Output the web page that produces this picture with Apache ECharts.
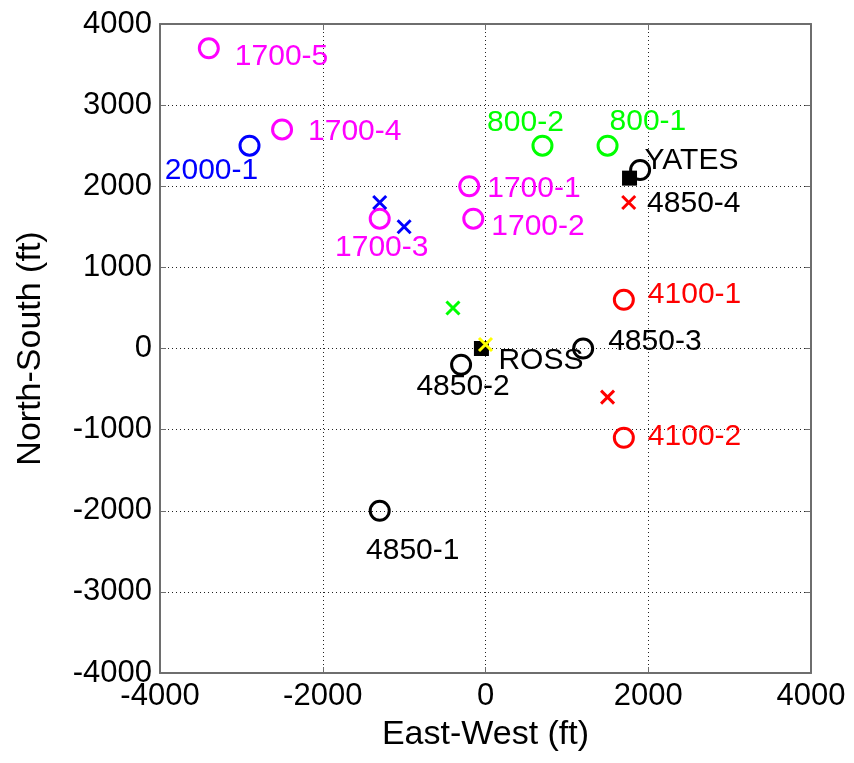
<!DOCTYPE html>
<html>
<head>
<meta charset="utf-8">
<script src="https://cdn.jsdelivr.net/npm/echarts@6/dist/echarts.min.js"></script>
<style>
  html, body { margin: 0; padding: 0; background: #fff; }
  #chart { width: 854px; height: 763px; }
</style>
</head>
<body>
<div id="chart"></div>
<script>
// Axis ranges and ticks (ft)
const xTicks = [-4000, -2000, 0, 2000, 4000];
const yTicks = [-4000, -3000, -2000, -1000, 0, 1000, 2000, 3000, 4000];

// 1700 level stations
const l1700Names = ['1700-5', '1700-4', '1700-1', '1700-2', '1700-3'];
const l1700X = [-3400, -2500, -200, -150, -1300];
const l1700Y = [3700, 2700, 2000, 1600, 1600];

// 2000 level station
const l2000Names = ['2000-1'];
const l2000X = [-2900];
const l2000Y = [2500];

// 800 level stations
const l800Names = ['800-2', '800-1'];
const l800X = [700, 1500];
const l800Y = [2500, 2500];

// 4100 level stations
const l4100Names = ['4100-1', '4100-2'];
const l4100X = [1700, 1700];
const l4100Y = [600, -1100];

// 4850 level stations
const l4850Names = ['4850-1', '4850-2', '4850-3', '4850-4'];
const l4850X = [-1300, -300, 1200, 1900];
const l4850Y = [-2000, -200, 0, 2200];

// Shafts
const shaftNames = ['ROSS', 'YATES'];
const shaftX = [-50, 1770];
const shaftY = [0, 2100];

// Crossed points
const blueCrossX = [-1300, -1000];
const blueCrossY = [1800, 1500];
const greenCrossX = [-400];
const greenCrossY = [500];
const yellowCrossX = [0];
const yellowCrossY = [50];
const redCrossX = [1760, 1500];
const redCrossY = [1800, -600];

// Label placement next to each marker: [dx, dy, align]
const labelPlace = {
  '1700-5': [26, 8, 'left'],
  '1700-4': [26, 2, 'left'],
  '1700-1': [18, 2, 'left'],
  '1700-2': [18, 8, 'left'],
  '1700-3': [2, 29, 'center'],
  '2000-1': [-38, 25, 'center'],
  '800-2': [-17, -23, 'center'],
  '800-1': [2, -24, 'left'],
  '4100-1': [24, -5, 'left'],
  '4100-2': [24, -1, 'left'],
  '4850-1': [33, 40, 'center'],
  '4850-2': [2, 22, 'center'],
  '4850-3': [25, -7, 'left'],
  '4850-4': [7, 34, 'left'],
  'ROSS': [17, 12, 'left'],
  'YATES': [15, -17, 'left']
};

const FONT = 'Liberation Sans, Arial, Helvetica, sans-serif';

function zip(xs, ys, names) {
  return xs.map((x, i) => {
    const item = { value: [x, ys[i]] };
    if (names) {
      const p = labelPlace[names[i]];
      item.name = names[i];
      item.label = { show: true, offset: [p[0], p[1]], align: p[2] };
    }
    return item;
  });
}

function circleSeries(xs, ys, names, color, labelColor) {
  return {
    type: 'scatter',
    symbol: 'circle',
    symbolSize: 19,
    itemStyle: { color: 'rgba(0,0,0,0)', borderColor: color, borderWidth: 3, opacity: 1 },
    label: {
      show: true, position: 'inside', formatter: '{b}',
      color: labelColor || color, fontFamily: FONT, fontSize: 30,
      verticalAlign: 'middle'
    },
    emphasis: { disabled: true },
    data: zip(xs, ys, names),
    z: 3
  };
}

const crossPath = 'path://M0,0L10,10M10,0L0,10';

function crossSeries(xs, ys, color) {
  return {
    type: 'scatter',
    symbol: crossPath,
    symbolSize: 13,
    itemStyle: { color: 'rgba(0,0,0,0)', borderColor: color, borderWidth: 3, opacity: 1 },
    emphasis: { disabled: true },
    data: zip(xs, ys),
    z: 4
  };
}

const axisCommon = {
  type: 'value',
  axisLine: { show: true, onZero: false, lineStyle: { color: '#6e6e6e', width: 2 } },
  axisTick: { show: true, inside: true, length: 6, lineStyle: { color: '#6e6e6e', width: 1 } },
  splitLine: { show: false }
};

const plainNumber = v => String(v);

const chart = echarts.init(document.getElementById('chart'), null, { renderer: 'canvas' });

chart.setOption({
  backgroundColor: '#ffffff',
  animation: false,
  grid: { left: 160, right: 43, top: 24, bottom: 90, containLabel: false },
  xAxis: [
    Object.assign({}, axisCommon, {
      position: 'bottom',
      min: xTicks[0], max: xTicks[xTicks.length - 1], interval: 2000,
      name: 'East-West (ft)', nameLocation: 'middle', nameGap: 45,
      nameTextStyle: { fontFamily: FONT, fontSize: 34, color: '#000' },
      axisLabel: { fontFamily: FONT, fontSize: 31, color: '#000', margin: 8, formatter: plainNumber },
      splitLine: { show: true, lineStyle: { color: '#222', width: 1, type: [1, 3] } }
    }),
    Object.assign({}, axisCommon, {
      position: 'top',
      min: xTicks[0], max: xTicks[xTicks.length - 1], interval: 2000,
      axisLabel: { show: false }
    })
  ],
  yAxis: [
    Object.assign({}, axisCommon, {
      position: 'left',
      min: yTicks[0], max: yTicks[yTicks.length - 1], interval: 1000,
      name: 'North-South (ft)', nameLocation: 'middle', nameGap: 112,
      nameTextStyle: { fontFamily: FONT, fontSize: 34, color: '#000' },
      axisLabel: { fontFamily: FONT, fontSize: 31, color: '#000', margin: 8, formatter: plainNumber },
      splitLine: { show: true, lineStyle: { color: '#222', width: 1, type: [1, 3] } }
    }),
    Object.assign({}, axisCommon, {
      position: 'right',
      min: yTicks[0], max: yTicks[yTicks.length - 1], interval: 1000,
      axisLabel: { show: false }
    })
  ],
  series: [
    circleSeries(l1700X, l1700Y, l1700Names, '#ff00ff'),
    circleSeries(l2000X, l2000Y, l2000Names, '#0000ff'),
    circleSeries(l800X, l800Y, l800Names, '#00ff00'),
    circleSeries(l4100X, l4100Y, l4100Names, '#ff0000'),
    circleSeries(l4850X, l4850Y, l4850Names, '#000000'),
    {
      type: 'scatter',
      symbol: 'rect',
      symbolSize: 15,
      itemStyle: { color: '#000000', opacity: 1 },
      label: {
        show: true, position: 'inside', formatter: '{b}',
        color: '#000', fontFamily: FONT, fontSize: 30, verticalAlign: 'middle'
      },
      emphasis: { disabled: true },
      data: zip(shaftX, shaftY, shaftNames),
      z: 2
    },
    crossSeries(blueCrossX, blueCrossY, '#0000ff'),
    crossSeries(greenCrossX, greenCrossY, '#00ff00'),
    crossSeries(yellowCrossX, yellowCrossY, '#ffff00'),
    crossSeries(redCrossX, redCrossY, '#ff0000')
  ]
});
</script>
</body>
</html>
